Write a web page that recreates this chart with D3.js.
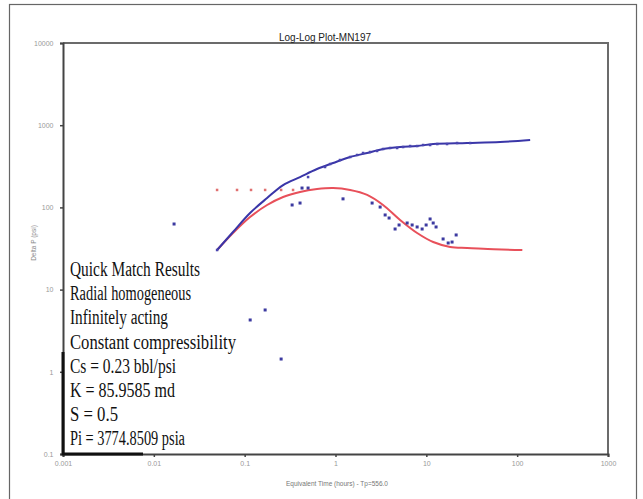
<!DOCTYPE html>
<html>
<head>
<meta charset="utf-8">
<script src="https://cdn.jsdelivr.net/npm/d3@7"></script>
<style>
  body { margin: 0; background: #fff; }
  svg { display: block; }
</style>
</head>
<body>
<div id="chart"></div>
<script>
// --- data ---
const xTicks = [0.001, 0.01, 0.1, 1, 10, 100, 1000];
const yTicks = [0.1, 1, 10, 100, 1000, 10000];
const xTickLabels = ["0.001", "0.01", "0.1", "1", "10", "100", "1000"];
const yTickLabels = ["0.1", "1", "10", "100", "1000", "10000"];

// model pressure-change curve (blue)
const pressureModelT = [0.0497, 0.0744, 0.1146, 0.1766, 0.265, 0.407, 0.626, 0.942, 1.45, 2.23, 3.34, 5.14, 7.92, 11.9, 28.1, 65.0, 139];
const pressureModelV = [30.3, 50.2, 85.5, 130, 187, 234, 293, 347, 410, 459, 513, 543, 558, 590, 607, 625, 661];

// model derivative curve (red)
const derivModelT = [0.0497, 0.0744, 0.1146, 0.1766, 0.265, 0.407, 0.626, 0.942, 1.45, 2.23, 3.34, 5.14, 7.92, 11.9, 18.3, 28.1, 42.3, 114];
const derivModelV = [30.3, 48.8, 76.4, 107, 134, 154, 167, 172, 163, 142, 107, 70.3, 48.8, 37.9, 33.0, 32.1, 31.3, 30.3];

// measured pressure change (blue squares)
const pressureT = [0.0497, 0.499, 0.767, 0.873, 1.12, 1.45, 1.73, 2.01, 2.40, 2.87, 3.34, 3.99, 4.77, 5.55, 6.63, 7.92, 9.22, 11.0, 13.2, 16.9, 21.8, 30.4];
const pressureV = [30.3, 234, 310, 337, 377, 410, 434, 459, 472, 486, 513, 528, 528, 543, 558, 558, 574, 574, 590, 590, 607, 607];

// measured derivative (blue squares, scattered)
const derivT = [0.0167, 0.115, 0.168, 0.252, 0.333, 0.407, 0.428, 0.499, 1.21, 2.53, 3.10, 3.52, 3.89, 4.53, 5.01, 6.15, 6.98, 7.92, 8.99, 9.95, 11.0, 11.9, 12.8, 15.3, 17.4, 19.2, 21.3];
const derivV = [62.8, 4.27, 5.65, 1.43, 107, 113, 172, 172, 127, 113, 101, 80.9, 74.3, 54.6, 61.1, 64.6, 61.1, 57.8, 54.6, 61.1, 72.3, 64.6, 57.8, 41.3, 36.9, 37.9, 46.2];

// early-time red markers
const earlyT = [0.0497, 0.0824, 0.1175, 0.168, 0.252, 0.341];
const earlyV = [163, 163, 163, 163, 163, 163];

const resultLines = [
  "Quick Match Results",
  "Radial homogeneous",
  "Infinitely acting",
  "Constant compressibility",
  "Cs = 0.23 bbl/psi",
  "K = 85.9585 md",
  "S = 0.5",
  "Pi = 3774.8509 psia"
];
const resultWidths = [130, 121, 98, 166, 106, 105, 48, 115];

// --- layout ---
const W = 643, H = 499;
const plot = { left: 63, top: 43, right: 608, bottom: 454 };

const svg = d3.select("#chart").append("svg")
  .attr("width", W).attr("height", H);

svg.append("rect").attr("width", W).attr("height", H).attr("fill", "#fff");

// outer frame
svg.append("rect")
  .attr("x", 9.5).attr("y", 4.5)
  .attr("width", 627).attr("height", 500)
  .attr("fill", "none").attr("stroke", "#666").attr("stroke-width", 1.2);

const x = d3.scaleLog().domain([0.001, 1000]).range([plot.left, plot.right]);
const y = d3.scaleLog().domain([0.1, 10000]).range([plot.bottom, plot.top]);

// plot frame (top + right)
svg.append("path")
  .attr("d", `M${plot.left},${plot.top}H${plot.right}V${plot.bottom}`)
  .attr("fill", "none").attr("stroke", "#6b6b6b").attr("stroke-width", 2);

// axes
const xAxis = d3.axisBottom(x).tickValues(xTicks).tickSize(3)
  .tickFormat((d, i) => xTickLabels[i]);
const yAxis = d3.axisLeft(y).tickValues(yTicks).tickSize(3)
  .tickFormat((d, i) => yTickLabels[i]);

const gx = svg.append("g").attr("transform", `translate(0,${plot.bottom})`).call(xAxis);
const gy = svg.append("g").attr("transform", `translate(${plot.left},0)`).call(yAxis);

[gx, gy].forEach(g => {
  g.select(".domain").attr("stroke", "#444").attr("stroke-width", 2);
  g.selectAll(".tick line").attr("stroke", "#444").attr("stroke-width", 1.5);
  g.selectAll(".tick text")
    .attr("fill", "#999").attr("font-family", "Arial, 'Liberation Sans', sans-serif")
    .attr("font-size", 7);
});
gx.selectAll(".tick text").attr("dy", "0.9em");
gy.selectAll(".tick text").attr("dx", "-0.5em");

// title + axis labels
svg.append("text")
  .attr("x", 325).attr("y", 41)
  .attr("text-anchor", "middle")
  .attr("font-family", "Arial, sans-serif")
  .attr("font-size", 10.5).attr("fill", "#222")
  .attr("textLength", 92).attr("lengthAdjust", "spacingAndGlyphs")
  .text("Log-Log Plot-MN197");

svg.append("text")
  .attr("x", 337).attr("y", 486)
  .attr("text-anchor", "middle")
  .attr("font-family", "Arial, sans-serif")
  .attr("font-size", 6.5).attr("fill", "#777")
  .text("Equivalent Time (hours) - Tp=556.0");

svg.append("text")
  .attr("transform", "translate(36,243) rotate(-90)")
  .attr("text-anchor", "middle")
  .attr("font-family", "Arial, sans-serif")
  .attr("font-size", 6.5).attr("fill", "#888")
  .text("Delta P (psi)");

// curves
const line = d3.line()
  .x(d => x(d[0])).y(d => y(d[1]))
  .curve(d3.curveCatmullRom.alpha(0.5));

svg.append("path")
  .datum(derivModelT.map((t, i) => [t, derivModelV[i]]))
  .attr("d", line)
  .attr("fill", "none").attr("stroke", "#e8505a").attr("stroke-width", 2);

svg.append("path")
  .datum(pressureModelT.map((t, i) => [t, pressureModelV[i]]))
  .attr("d", line)
  .attr("fill", "none").attr("stroke", "#3a36a8").attr("stroke-width", 2);

// markers
function squares(ts, vs, color, s) {
  svg.append("g").selectAll("rect")
    .data(ts.map((t, i) => [t, vs[i]]))
    .join("rect")
    .attr("x", d => x(d[0]) - s / 2).attr("y", d => y(d[1]) - s / 2)
    .attr("width", s).attr("height", s)
    .attr("fill", color);
}
squares(earlyT, earlyV, "#e07070", 2.5);
squares(pressureT, pressureV, "#4a46b0", 2.5);
squares(derivT, derivV, "#3c3aa0", 3);

// text block
const tb = svg.append("g")
  .attr("font-family", "'Liberation Serif', 'Times New Roman', serif")
  .attr("font-size", 20).attr("fill", "#111");
tb.selectAll("text")
  .data(resultLines)
  .join("text")
  .attr("x", 70)
  .attr("y", (d, i) => 276 + i * 24.2)
  .attr("textLength", (d, i) => resultWidths[i])
  .attr("lengthAdjust", "spacingAndGlyphs")
  .text(d => d);

// thick box edges under the text block
svg.append("path")
  .attr("d", `M${plot.left},352V${plot.bottom}H143`)
  .attr("fill", "none").attr("stroke", "#111").attr("stroke-width", 3);
</script>
</body>
</html>
